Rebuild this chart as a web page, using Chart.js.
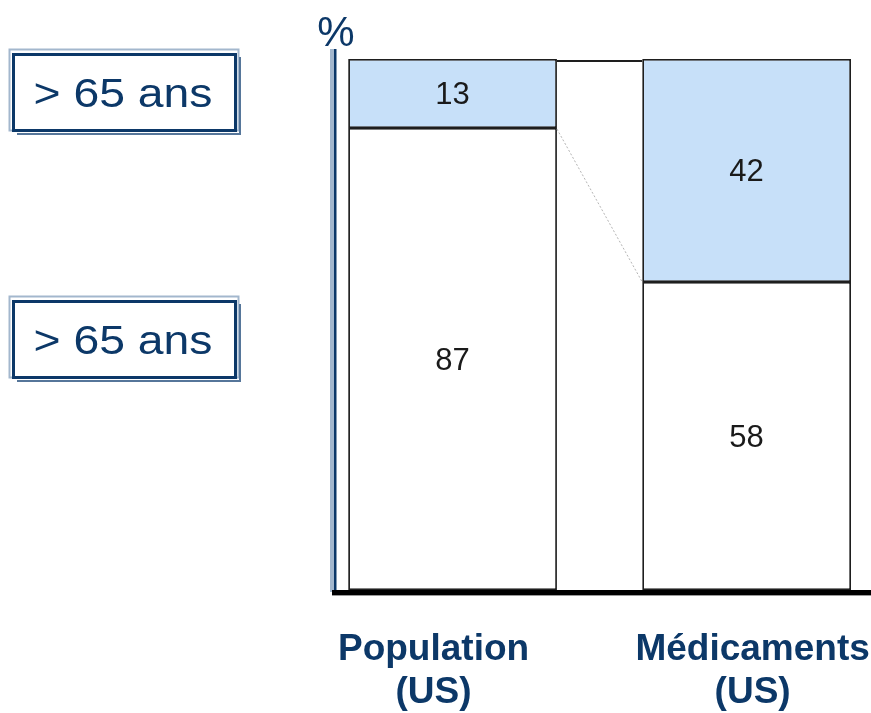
<!DOCTYPE html>
<html><head><meta charset="utf-8">
<script src="https://cdn.jsdelivr.net/npm/chart.js@4"></script>
<style>html,body{margin:0;padding:0;background:#fff}#wrap{width:871px;height:713px;position:relative}</style>
</head><body><div id="wrap"><canvas id="c" width="871" height="713"></canvas></div>
<script>
// ---- data ----
const categories = [['Population', '(US)'], ['Médicaments', '(US)']];
const under65 = [87, 58];
const over65 = [13, 42];
const boxLabels = ['> 65 ans', '> 65 ans'];
const axisUnit = '%';

// ---- style ----
const NAVY = '#0c3868';
const BLUE = '#c7e0f9';
const EDGE = '#1e1e1e';
const labelShift = [-19, 6];

const deco = {
  id: 'deco',
  beforeDraw(chart) {
    const ctx = chart.ctx;
    ctx.save();
    ctx.fillStyle = '#fff';
    ctx.fillRect(0, 0, chart.width, chart.height);
    ctx.restore();
  },
  afterDraw(chart) {
    const ctx = chart.ctx;
    const xs = chart.scales.x, ys = chart.scales.y;
    const area = chart.chartArea;
    const m0 = chart.getDatasetMeta(0), m1 = chart.getDatasetMeta(1);
    ctx.save();

    // connectors between the two bars
    const b0 = m0.data[0], b1 = m0.data[1];
    const r0 = b0.x + b0.width / 2, l1 = b1.x - b1.width / 2;
    ctx.strokeStyle = EDGE; ctx.lineWidth = 1.8;
    ctx.beginPath(); ctx.moveTo(r0, ys.getPixelForValue(100) + 2); ctx.lineTo(l1, ys.getPixelForValue(100) + 2); ctx.stroke();
    ctx.strokeStyle = '#b5b5b5'; ctx.lineWidth = 1; ctx.setLineDash([2, 2]);
    ctx.beginPath(); ctx.moveTo(r0, b0.y + 1); ctx.lineTo(l1, b1.y); ctx.stroke();
    ctx.setLineDash([]);

    // value labels
    ctx.fillStyle = '#1a1a1a';
    ctx.font = '31px "Liberation Sans", Arial, sans-serif';
    ctx.textAlign = 'center'; ctx.textBaseline = 'middle';
    [m0, m1].forEach((m, di) => {
      const vals = di === 0 ? under65 : over65;
      m.data.forEach((el, i) => {
        ctx.fillText(String(vals[i]), el.x, (el.y + el.base) / 2 + 2);
      });
    });

    // y axis double line
    ctx.fillStyle = '#a3b7cd';
    ctx.fillRect(area.left - 7, 49, 4, area.bottom - 49 + 2);
    ctx.fillStyle = NAVY;
    ctx.fillRect(area.left - 3, 49, 2.5, area.bottom - 49 + 2);
    // x axis thick line
    ctx.fillStyle = '#000';
    ctx.fillRect(area.left - 5, area.bottom, chart.width, 5);
    ctx.fillStyle = '#9a9a9a';
    ctx.fillRect(area.left - 5, area.bottom + 5, chart.width, 1);

    // unit
    ctx.fillStyle = NAVY;
    ctx.font = '42px "Liberation Sans", Arial, sans-serif';
    ctx.textAlign = 'center'; ctx.textBaseline = 'alphabetic';
    ctx.fillText(axisUnit, area.left - 1, 46);

    // category labels
    ctx.font = 'bold 37px "Liberation Sans", Arial, sans-serif';
    categories.forEach((lines, i) => {
      const cx = xs.getPixelForValue(i) + labelShift[i];
      lines.forEach((t, k) => ctx.fillText(t, cx, 660 + k * 43));
    });

    // boxes
    boxLabels.forEach((t, i) => {
      const oy = i * 247;
      ctx.lineWidth = 2; ctx.strokeStyle = '#a3b7cd';
      ctx.strokeRect(9.5, 49.5 + oy, 229, 81);
      ctx.strokeStyle = '#56769a';
      ctx.beginPath();
      ctx.moveTo(17, 134 + oy); ctx.lineTo(240, 134 + oy); ctx.lineTo(240, 57 + oy); ctx.stroke();
      ctx.lineWidth = 3; ctx.strokeStyle = NAVY;
      ctx.strokeRect(13.5, 54.5 + oy, 222, 76);
      ctx.save();
      ctx.fillStyle = NAVY;
      ctx.font = '41px "Liberation Sans", Arial, sans-serif';
      ctx.textAlign = 'center'; ctx.textBaseline = 'alphabetic';
      ctx.translate(123, 107 + oy);
      ctx.scale(1.13, 1);
      ctx.fillText(t, 0, 0);
      ctx.restore();
    });
    ctx.restore();
  }
};

new Chart(document.getElementById('c'), {
  type: 'bar',
  data: {
    datasets: [
      { label: '≤ 65 ans', data: under65.map((v, i) => ({ x: i, y: v })), backgroundColor: '#ffffff',
        borderColor: EDGE, borderWidth: 1.8, stack: 's', borderSkipped: false },
      { label: '> 65 ans', data: over65.map((v, i) => ({ x: i, y: v })), backgroundColor: BLUE,
        borderColor: EDGE, borderWidth: 1.8, stack: 's', borderSkipped: false }
    ]
  },
  options: {
    responsive: false,
    animation: false,
    layout: { padding: { top: 59, bottom: 123, left: 337, right: 0 } },
    categoryPercentage: 1,
    barPercentage: 0.71,
    plugins: { legend: { display: false }, tooltip: { enabled: false } },
    scales: {
      x: { type: 'linear', min: -0.393, max: 1.423, offset: false, display: false,
           afterBuildTicks: (s) => { s.ticks = categories.map((c, i) => ({ value: i })); } },
      y: { stacked: true, min: 0, max: 100, display: false }
    }
  },
  plugins: [deco]
});
</script></body></html>
